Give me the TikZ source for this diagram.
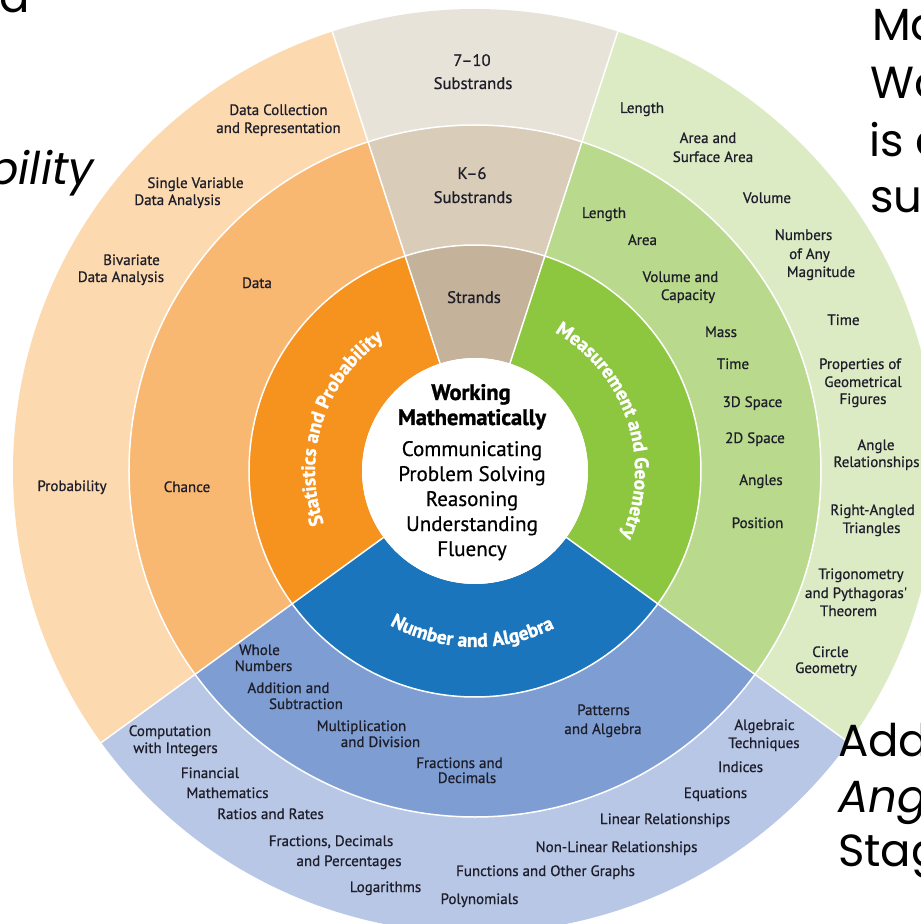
\documentclass[tikz,border=0pt]{standalone}
\usepackage{fontspec}
\setmainfont{PT Sans}
\newfontfamily\labfont{PT Sans}[FakeBold=0.8]
\newfontfamily\wmfont{PT Sans}[FakeBold=0.5]
\newfontfamily\heavyfont{PT Sans}[BoldFeatures={FakeBold=1.2}]
\newfontfamily\gothic{Poppins}
\usetikzlibrary{decorations.text}

\definecolor{oOut}{HTML}{FCD9AF}
\definecolor{oMid}{HTML}{F9B872}
\definecolor{oIn}{HTML}{F6921E}
\definecolor{tOut}{HTML}{E8E3D9}
\definecolor{tMid}{HTML}{D9CDBA}
\definecolor{tIn}{HTML}{C4B39A}
\definecolor{gOut}{HTML}{DDEBC5}
\definecolor{gMid}{HTML}{B9D98C}
\definecolor{gIn}{HTML}{8DC63F}
\definecolor{bOut}{HTML}{B8C7E6}
\definecolor{bMid}{HTML}{7E9ED3}
\definecolor{bIn}{HTML}{1B75BC}
\definecolor{ink}{HTML}{1E1E2A}

% color, start angle, end angle, inner radius, outer radius
\newcommand\seg[5]{%
  \fill[#1] (#2:#4) arc[start angle=#2, end angle=#3, radius=#4]
    -- (#3:#5) arc[start angle=#3, end angle=#2, radius=#5] -- cycle;}
\newcommand\lb[4]{\node[lab] (#1) at (#2,#3+5) {#4};}
\newcommand\tl[4]{\node[tanlab] (#1) at (#2,#3+6) {#4};}

\begin{document}
\begin{tikzpicture}[x=1pt,y=1pt,
  lab/.style={font=\labfont\fontsize{15}{17}\selectfont, text=ink, inner sep=0pt, anchor=base},
  tanlab/.style={font=\labfont\fontsize{16.7}{19}\selectfont, text=ink, inner sep=0pt, anchor=base},
  wmb/.style={font=\heavyfont\bfseries\fontsize{22.4}{24}\selectfont, text=black, inner sep=0pt, anchor=base},
  wmr/.style={font=\wmfont\fontsize{21}{24}\selectfont, text=black, inner sep=0pt, anchor=base},
  slide/.style={font=\gothic\fontsize{45}{45}\selectfont, text=black, inner sep=0pt},
  sep/.style={white, line width=1.5pt},
  strandtext/.style={decorate, decoration={text along path, text align=center,
      text color=white, text={|\heavyfont\bfseries\fontsize{19.5}{19.5}\selectfont|#1}}}]
\useasboundingbox (-475,-453) rectangle (446,471);
\clip (-475,-453) rectangle (446,471);
\fill[white] (-475,-453) rectangle (446,471);

% rings
\seg{oOut}{108}{216}{346}{462}
\seg{oMid}{108}{216}{226}{346}
\seg{oIn}{108}{216}{113}{226}
\seg{bOut}{216}{324}{346}{462}
\seg{bMid}{216}{324}{226}{346}
\seg{bIn}{216}{324}{113}{226}
\seg{gOut}{-36}{72}{346}{462}
\seg{gMid}{-36}{72}{226}{346}
\seg{gIn}{-36}{72}{113}{226}
\seg{tOut}{72}{108}{346}{462}
\seg{tMid}{72}{108}{226}{346}
\seg{tIn}{72}{108}{113}{226}

% separators
\draw[sep] (0,0) circle[radius=226];
\draw[sep] (0,0) circle[radius=346];
\fill[white] (0,0) circle[radius=113];
\foreach \a in {72,108,216,324} \draw[sep] (\a:112) -- (\a:463);

% strand labels on arcs
\path[strandtext={Statistics and Probability}] (214:160) arc[start angle=214, end angle=110, radius=160];
\path[strandtext={Measurement and Geometry}] (70:160) arc[start angle=70, end angle=-34, radius=160];
\path[strandtext={Number and Algebra}] (218:176) arc[start angle=218, end angle=320, radius=176];

\begin{scope}[shift={(-475,471)}, y=-1pt]
% centre
\node[wmb] (wm1) at (471,400) {Working};
\node[wmb] (wm2) at (472,425) {Mathematically};
\node[wmr] (wm3) at (472,456) {Communicating};
\node[wmr] (wm4) at (472,481) {Problem Solving};
\node[wmr] (wm5) at (472,506) {Reasoning};
\node[wmr] (wm6) at (472,531) {Understanding};
\node[wmr] (wm7) at (472,556) {Fluency};

% tan column
\tl{t1a}{472}{60}{7–10}
\tl{t1b}{473}{83}{Substrands}
\tl{t2a}{472}{173}{K–6}
\tl{t2b}{473}{197}{Substrands}
\tl{t3}{474}{297}{Strands}

% statistics and probability
\lb{o1}{278.5}{110}{Data Collection}
\lb{o2}{278.5}{128}{and Representation}
\lb{o3}{195.5}{183}{Single Variable}
\lb{o4}{177.5}{200}{Data Analysis}
\lb{o5}{131.5}{260}{Bivariate}
\lb{o6}{121}{277}{Data Analysis}
\lb{o7}{72}{486}{Probability}
\lb{o8}{257}{283}{Data}
\lb{o9}{187}{487}{Chance}

% measurement and geometry, K-6
\lb{g1}{604}{213}{Length}
\lb{g2}{642.5}{240}{Area}
\lb{g3}{680.5}{277}{Volume and}
\lb{g4}{688}{295}{Capacity}
\lb{g5}{721}{332}{Mass}
\lb{g6}{733}{364}{Time}
\lb{g7}{752.5}{402}{3D Space}
\lb{g8}{755}{438}{2D Space}
\lb{g9}{761}{480}{Angles}
\lb{g10}{757.5}{523}{Position}

% measurement and geometry, 7-10
\lb{h1}{642}{108}{Length}
\lb{h2}{708}{138}{Area and}
\lb{h3}{713}{157}{Surface Area}
\lb{h4}{767}{198}{Volume}
\lb{h5}{803.5}{235}{Numbers}
\lb{h6}{809.5}{254}{of Any}
\lb{h7}{821}{272}{Magnitude}
\lb{h8}{843.5}{320}{Time}
\lb{h9}{860}{364}{Properties of}
\lb{h10}{863}{382}{Geometrical}
\lb{h11}{863}{399}{Figures}
\lb{h12}{876}{445}{Angle}
\lb{h13}{876.5}{462}{Relationships}
\lb{h14}{872.5}{510}{Right-Angled}
\lb{h15}{871.5}{528}{Triangles}
\lb{h16}{861}{574}{Trigonometry}
\lb{h17}{856}{593}{and Pythagoras'}
\lb{h18}{848.5}{611}{Theorem}
\lb{h19}{830.5}{652}{Circle}
\lb{h20}{826}{668}{Geometry}

% number and algebra, K-6
\lb{n1}{259.5}{650}{Whole}
\lb{n2}{263.5}{666}{Numbers}
\lb{n3}{288.5}{688}{Addition and}
\lb{n4}{306}{704}{Subtraction}
\lb{n5}{361.5}{726}{Multiplication}
\lb{n6}{380.5}{742}{and Division}
\lb{n7}{459.5}{763}{Fractions and}
\lb{n8}{467}{778}{Decimals}
\lb{n9}{603.5}{710}{Patterns}
\lb{n10}{603}{729}{and Algebra}

% number and algebra, 7-10
\lb{m1}{170}{731}{Computation}
\lb{m2}{175.5}{748}{with Integers}
\lb{m3}{210}{773}{Financial}
\lb{m4}{227.5}{793}{Mathematics}
\lb{m5}{270.5}{814}{Ratios and Rates}
\lb{m6}{331}{841}{Fractions, Decimals}
\lb{m7}{349}{861}{and Percentages}
\lb{m8}{385.5}{887}{Logarithms}
\lb{m9}{479.5}{899}{Polynomials}
\lb{m10}{545.5}{871}{Functions and Other Graphs}
\lb{m11}{616.5}{847}{Non-Linear Relationships}
\lb{m12}{665}{819}{Linear Relationships}
\lb{m13}{715.5}{793}{Equations}
\lb{m14}{740.5}{767}{Indices}
\lb{m15}{764.5}{725}{Algebraic}
\lb{m16}{764}{743}{Techniques}

% fragments of the slide text around the wheel
\node[slide, anchor=base west] (s1) at (-1,13) {a};
\node[slide, anchor=base east] (s2) at (94,185) {\itshape bility};
\node[slide, anchor=base west] (s3) at (872,41) {Ma};
\node[slide, anchor=base west] (s4) at (870,99) {Wo};
\node[slide, anchor=base west] (s5) at (869,157) {is e};
\node[slide, anchor=base west] (s6) at (870,213) {su};
\node[slide, anchor=base west] (s7) at (838,756) {Add};
\node[slide, anchor=base west] (s8) at (838,812) {\itshape Ang};
\node[slide, anchor=base west] (s9) at (838,866) {Stag};
\end{scope}
\end{tikzpicture}
\end{document}
